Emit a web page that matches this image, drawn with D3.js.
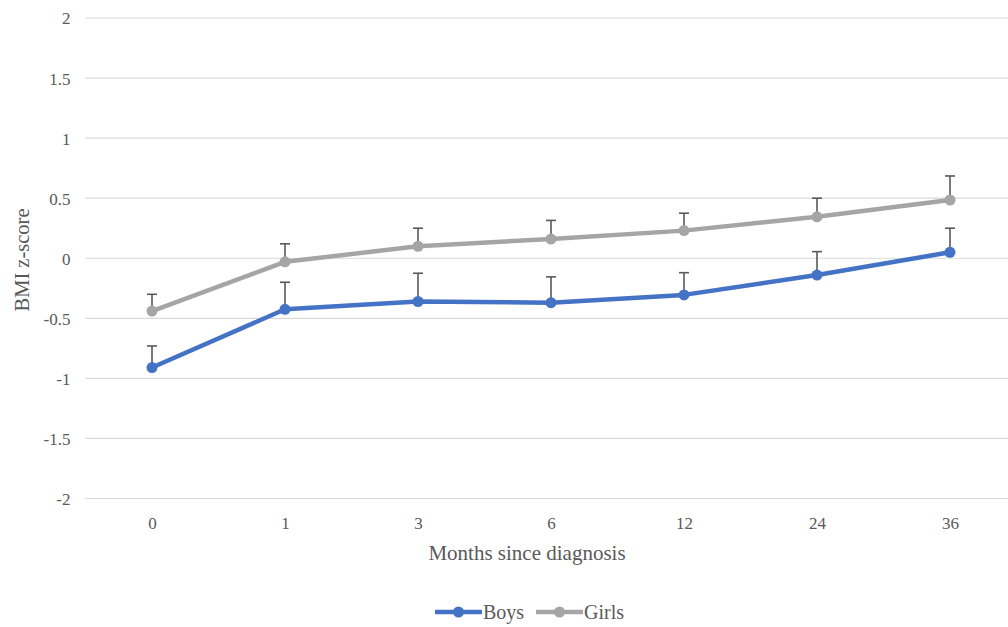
<!DOCTYPE html>
<html>
<head>
<meta charset="utf-8">
<script src="https://cdn.jsdelivr.net/npm/d3@7"></script>
<style>
  html, body { margin: 0; padding: 0; background: #fff; overflow: hidden; }
  svg { display: block; }
  svg text { font-family: "Liberation Serif", "Times New Roman", Tinos, "DejaVu Serif", serif !important; }
</style>
</head>
<body>
<svg id="chart" width="1008" height="627"></svg>
<script>
// Months since diagnosis (categorical axis)
const months = ["0", "1", "3", "6", "12", "24", "36"];
// Mean BMI z-score by group
const boys  = [-0.91, -0.425, -0.36, -0.37, -0.305, -0.14, 0.05];
const girls = [-0.44, -0.03, 0.10, 0.16, 0.23, 0.345, 0.485];
// Upper error-bar lengths
const boysErr  = [0.18, 0.225, 0.235, 0.215, 0.185, 0.195, 0.20];
const girlsErr = [0.14, 0.15, 0.15, 0.155, 0.145, 0.155, 0.20];
const yTicks = [2, 1.5, 1, 0.5, 0, -0.5, -1, -1.5, -2];

const series = [
  { name: "Boys",  values: boys,  err: boysErr,  color: "#4472C4" },
  { name: "Girls", values: girls, err: girlsErr, color: "#A5A5A5" }
];

const svg = d3.select("#chart");
const plotLeft = 85.5, plotRight = 1016.5, plotTop = 18, plotBottom = 498.5;

const x = d3.scalePoint().domain(months).range([plotLeft, plotRight]).padding(0.5);
const y = d3.scaleLinear().domain([-2, 2]).range([plotBottom, plotTop]);

// Horizontal gridlines
svg.append("g").selectAll("line").data(yTicks).join("line")
  .attr("x1", plotLeft).attr("x2", 1008)
  .attr("y1", d => y(d)).attr("y2", d => y(d))
  .attr("stroke", "#d9d9d9").attr("stroke-width", 1.2);

// Y tick labels
const yAxis = d3.axisLeft(y).tickValues(yTicks).tickSize(0).tickPadding(0)
  .tickFormat(d => String(d));
svg.append("g").attr("transform", `translate(${plotLeft - 15},0)`).call(yAxis)
  .call(g => g.select(".domain").remove())
  .call(g => g.selectAll("text")
    .attr("fill", "#595959").attr("font-size", 17).attr("dy", "0.35em"));

// X tick labels
const xAxis = d3.axisBottom(x).tickSize(0).tickPadding(0);
svg.append("g").attr("transform", `translate(0,${plotBottom + 30})`).call(xAxis)
  .call(g => g.select(".domain").remove())
  .call(g => g.selectAll("text")
    .attr("fill", "#595959").attr("font-size", 17).attr("dy", "0"));

// Axis titles
svg.append("text")
  .attr("x", 527).attr("y", 560)
  .attr("text-anchor", "middle").attr("font-size", 21).attr("fill", "#595959")
  .text("Months since diagnosis");
svg.append("text")
  .attr("transform", "translate(29,260) rotate(-90)")
  .attr("text-anchor", "middle").attr("font-size", 20.5).attr("fill", "#595959")
  .text("BMI z-score");

const line = d3.line().x((d, i) => x(months[i])).y(d => y(d));

series.forEach(s => {
  const g = svg.append("g");
  // Upper error bars
  const eb = g.append("g");
  eb.selectAll("line.stem").data(s.values).join("line")
    .attr("class", "stem")
    .attr("x1", (d, i) => x(months[i])).attr("x2", (d, i) => x(months[i]))
    .attr("y1", d => y(d)).attr("y2", (d, i) => y(d + s.err[i]))
    .attr("stroke", "#595959").attr("stroke-width", 1.6);
  eb.selectAll("line.cap").data(s.values).join("line")
    .attr("class", "cap")
    .attr("x1", (d, i) => x(months[i]) - 5).attr("x2", (d, i) => x(months[i]) + 5)
    .attr("y1", (d, i) => y(d + s.err[i])).attr("y2", (d, i) => y(d + s.err[i]))
    .attr("stroke", "#595959").attr("stroke-width", 1.6);
  // Series line
  g.append("path").datum(s.values)
    .attr("d", line).attr("fill", "none")
    .attr("stroke", s.color).attr("stroke-width", 4.5)
    .attr("stroke-linejoin", "round").attr("stroke-linecap", "round");
  // Markers
  g.selectAll("circle").data(s.values).join("circle")
    .attr("cx", (d, i) => x(months[i])).attr("cy", d => y(d))
    .attr("r", 5.5).attr("fill", s.color);
});

// Legend
const legend = svg.append("g");
const legendItems = [
  { s: series[0], x0: 435 },
  { s: series[1], x0: 536 }
];
legendItems.forEach(({ s, x0 }) => {
  legend.append("line")
    .attr("x1", x0).attr("x2", x0 + 47).attr("y1", 612).attr("y2", 612)
    .attr("stroke", s.color).attr("stroke-width", 4.5);
  legend.append("circle").attr("cx", x0 + 23.5).attr("cy", 612).attr("r", 5.5)
    .attr("fill", s.color);
  legend.append("text").attr("x", x0 + 48).attr("y", 612).attr("dy", "0.33em")
    .attr("font-size", 20).attr("fill", "#595959").text(s.name);
});
</script>
</body>
</html>
